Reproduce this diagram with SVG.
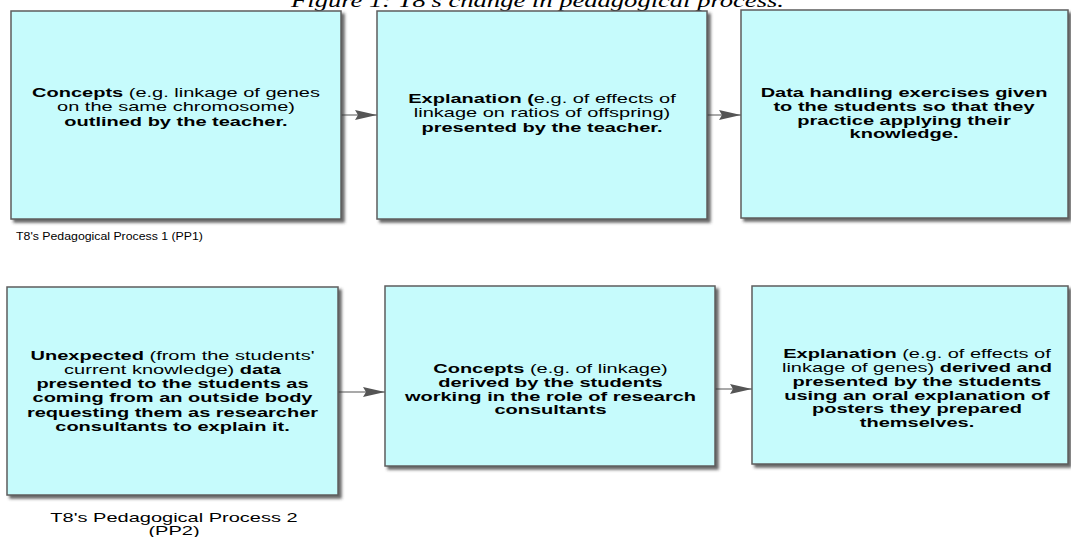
<svg xmlns="http://www.w3.org/2000/svg" width="1071" height="537" viewBox="0 0 1071 537">
<defs>
<filter id="sh" x="-5%" y="-5%" width="115%" height="115%">
<feDropShadow dx="3" dy="3" stdDeviation="1.8" flood-color="#333" flood-opacity="0.75"/>
</filter>
<marker id="ah" viewBox="0 0 22 10" refX="22" refY="5" markerWidth="22" markerHeight="10" markerUnits="userSpaceOnUse" orient="auto">
<path d="M0,0 L22,5 L0,10 L3,5 z" fill="#555"/>
</marker>
</defs>
<style>
.box{fill:#c6fbfc;stroke:#5e5e5e;stroke-width:1.5;filter:url(#sh)}
.t{font-family:"Liberation Sans",Arial,sans-serif;font-size:13px;fill:#000;text-anchor:middle}
.b{font-weight:bold}
.lbl{font-family:"Liberation Sans",Arial,sans-serif;fill:#000;text-anchor:middle}
.title{font-family:"Liberation Serif","Times New Roman",serif;font-style:italic;font-size:18px;fill:#000;text-anchor:middle}
.conn{stroke:#555;stroke-width:1.2;fill:none;marker-end:url(#ah)}
</style>
<rect width="1071" height="537" fill="#fff"/>
<g id="title" transform="translate(537.5,7) scale(1.477,1)">
<text class="title" x="0" y="0">Figure 1: T8's change in pedagogical process.</text>
</g>
<g id="connectors">
<line class="conn" x1="341" y1="115" x2="377" y2="115"/>
<line class="conn" x1="707" y1="115" x2="741" y2="115"/>
<line class="conn" x1="338" y1="392" x2="385" y2="392"/>
<line class="conn" x1="715" y1="389" x2="752" y2="389"/>
</g>
<g id="node1">
<rect class="box" x="11" y="11" width="330" height="208"/>
<g transform="translate(176,0) scale(1.54,1)">
<text class="t" x="0" y="97"><tspan class="b">Concepts</tspan> (e.g. linkage of genes</text>
<text class="t" x="0" y="111.5">on the same chromosome)</text>
<text class="t b" x="0" y="126">outlined by the teacher.</text>
</g>
</g>
<g id="node2">
<rect class="box" x="377" y="11" width="330" height="208"/>
<g transform="translate(542,0) scale(1.54,1)">
<text class="t" x="0" y="103"><tspan class="b">Explanation (</tspan>e.g. of effects of</text>
<text class="t" x="0" y="117.5">linkage on ratios of offspring)</text>
<text class="t b" x="0" y="132">presented by the teacher.</text>
</g>
</g>
<g id="node3">
<rect class="box" x="741" y="10" width="327" height="208"/>
<g transform="translate(904,0) scale(1.54,1)">
<text class="t b" x="0" y="97">Data handling exercises given</text>
<text class="t b" x="0" y="111">to the students so that they</text>
<text class="t b" x="0" y="125">practice applying their</text>
<text class="t b" x="0" y="138.5">knowledge.</text>
</g>
</g>
<g id="label1" transform="translate(109.5,240) scale(1.12,1)">
<text class="lbl" x="0" y="0" font-size="11">T8's Pedagogical Process 1 (PP1)</text>
</g>
<g id="node4">
<rect class="box" x="7" y="287" width="331" height="208"/>
<g transform="translate(172.5,0) scale(1.54,1)">
<text class="t" x="0" y="360"><tspan class="b">Unexpected</tspan> (from the students'</text>
<text class="t" x="0" y="374">current knowledge) <tspan class="b">data</tspan></text>
<text class="t b" x="0" y="388">presented to the students as</text>
<text class="t b" x="0" y="402.5">coming from an outside body</text>
<text class="t b" x="0" y="417">requesting them as researcher</text>
<text class="t b" x="0" y="431">consultants to explain it.</text>
</g>
</g>
<g id="node5">
<rect class="box" x="385" y="286" width="330" height="180"/>
<g transform="translate(550.5,0) scale(1.54,1)">
<text class="t" x="0" y="373"><tspan class="b">Concepts</tspan> (e.g. of linkage)</text>
<text class="t b" x="0" y="387">derived by the students</text>
<text class="t b" x="0" y="401">working in the role of research</text>
<text class="t b" x="0" y="414.5">consultants</text>
</g>
</g>
<g id="node6">
<rect class="box" x="752" y="286" width="316" height="178"/>
<g transform="translate(917,0) scale(1.54,1)">
<text class="t" x="0" y="358"><tspan class="b">Explanation</tspan> (e.g. of effects of</text>
<text class="t" x="0" y="372">linkage of genes) <tspan class="b">derived and</tspan></text>
<text class="t b" x="0" y="386">presented by the students</text>
<text class="t b" x="0" y="400">using an oral explanation of</text>
<text class="t b" x="0" y="413.5">posters they prepared</text>
<text class="t b" x="0" y="427">themselves.</text>
</g>
</g>
<g id="label2" transform="translate(174,0) scale(1.54,1)">
<text class="lbl" x="0" y="522" font-size="13">T8's Pedagogical Process 2</text>
<text class="lbl" x="0" y="535.5" font-size="13">(PP2)</text>
</g>
</svg>
